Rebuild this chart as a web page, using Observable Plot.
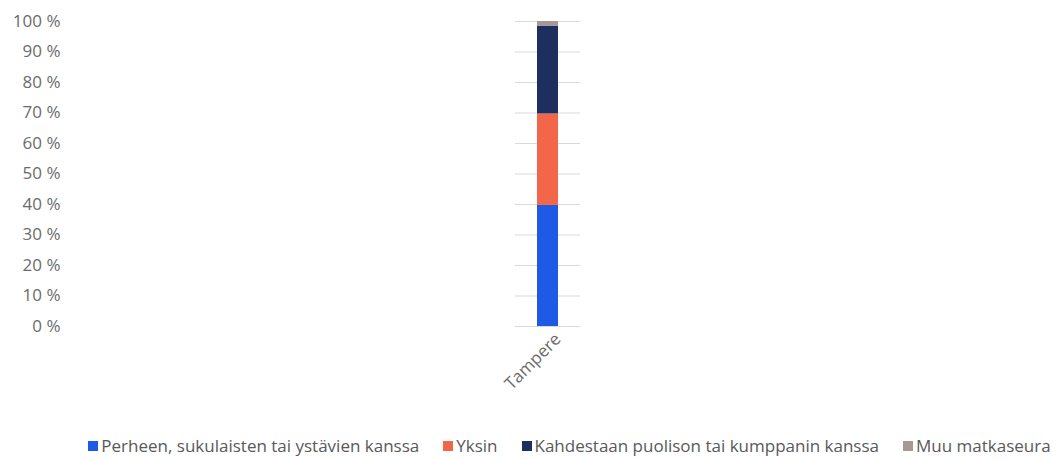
<!DOCTYPE html>
<html>
<head>
<meta charset="utf-8">
<script src="https://cdn.jsdelivr.net/npm/d3@7"></script>
<script src="https://cdn.jsdelivr.net/npm/@observablehq/plot@0.6"></script>
<style>
  html, body { margin: 0; padding: 0; background: #fff; }
  body { width: 1063px; height: 460px; overflow: hidden; font-family: "Open Sans", Roboto, sans-serif; }
  #legend { display: flex; justify-content: center; gap: 24px; margin-top: 34px; padding-left: 76px; font-size: 17px; color: #595959; white-space: nowrap; }
  #legend .item { display: flex; align-items: center; }
  #legend .sw { width: 10px; height: 10px; margin-right: 3px; display: inline-block; }
</style>
</head>
<body>
<div id="chart"></div>
<div id="legend"></div>
<script>
const categories = ["Tampere"];
const seriesNames = [
  "Perheen, sukulaisten tai ystävien kanssa",
  "Yksin",
  "Kahdestaan puolison tai kumppanin kanssa",
  "Muu matkaseura"
];
const seriesValues = [39.7, 30.0, 28.8, 1.5];
const seriesColors = ["#1E5AE6", "#F2674A", "#1C2F5E", "#A69893"];
const yTicks = [0, 10, 20, 30, 40, 50, 60, 70, 80, 90, 100];

const data = seriesNames.map((s, i) => ({ city: categories[0], series: s, value: seriesValues[i] }));

const chart = Plot.plot({
  width: 1063,
  height: 400,
  marginLeft: 70,
  marginRight: 39,
  marginTop: 21,
  marginBottom: 74,
  style: { fontFamily: "'Open Sans', Roboto, sans-serif", fontSize: "17px", color: "#666" },
  x: { domain: categories, padding: 0.8725, label: null },
  y: { domain: [0, 100], label: null },
  color: { domain: seriesNames, range: seriesColors },
  marks: [
    Plot.tickY(yTicks, { x: () => categories[0], y: d => d, stroke: "#d9d9d9", strokeWidth: 1 }),
    Plot.barY(data, { x: "city", y: "value", fill: "series", insetLeft: 22, insetRight: 22 }),
    Plot.axisY({ ticks: yTicks, tickFormat: d => d + " %", tickSize: 0, tickPadding: 10, fill: "#6b6b6b", fontSize: 17 }),
    Plot.axisX({ tickSize: 0, tickRotate: -45, tickPadding: 10, dx: 10, fill: "#6b6b6b", fontSize: 17 })
  ]
});
document.getElementById("chart").appendChild(chart);

const legend = document.getElementById("legend");
seriesNames.forEach((s, i) => {
  const it = document.createElement("div");
  it.className = "item";
  const sw = document.createElement("span");
  sw.className = "sw";
  sw.style.background = seriesColors[i];
  it.appendChild(sw);
  it.appendChild(document.createTextNode(s));
  legend.appendChild(it);
});
</script>
</body>
</html>
